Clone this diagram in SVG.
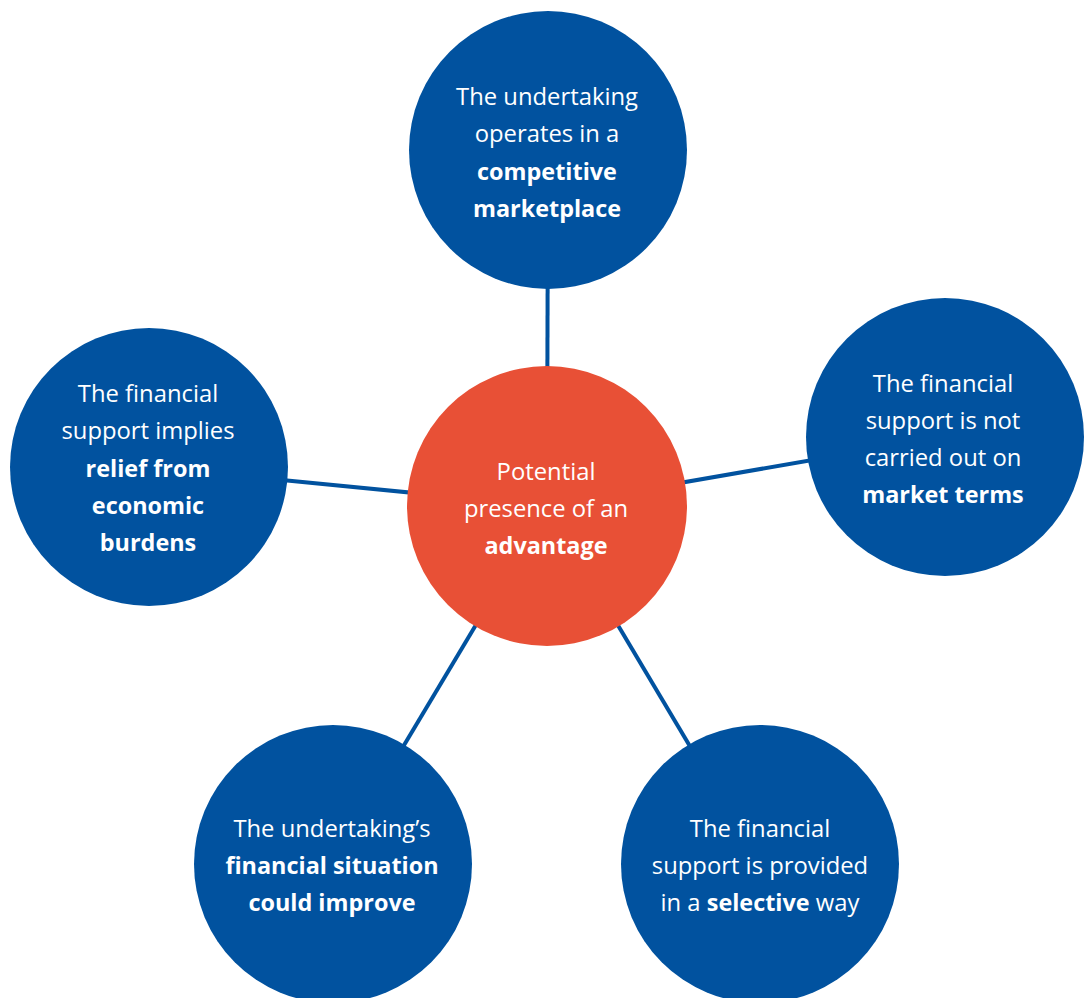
<svg xmlns="http://www.w3.org/2000/svg" width="1084" height="998" viewBox="0 0 1084 998">
<style>
.blue{fill:#01529F}
.orange{fill:#E85036}
.conn line{stroke:#01529F;stroke-width:4;stroke-linecap:butt}
text{font-family:"Open Sans","Noto Sans","Liberation Sans",sans-serif;font-size:23.8px;fill:#ffffff;text-anchor:middle;font-weight:normal}
.b{font-weight:bold;font-size:23.4px}
</style>
<rect width="1084" height="998" fill="#ffffff"/>
<g id="connectors" class="conn">
<line x1="547" y1="506" x2="548" y2="150"/>
<line x1="547" y1="506" x2="945" y2="437"/>
<line x1="547" y1="506" x2="149" y2="467"/>
<line x1="547" y1="506" x2="333" y2="864"/>
<line x1="547" y1="506" x2="760" y2="864"/>
</g>
<g id="node-top">
<circle class="blue" cx="548" cy="150" r="139"/>
<text x="547" y="105">The undertaking</text>
<text x="547" y="142">operates in a</text>
<text x="547" y="180" class="b">competitive</text>
<text x="547" y="217" class="b">marketplace</text>
</g>
<g id="node-center">
<circle class="orange" cx="547" cy="506" r="140"/>
<text x="546" y="480">Potential</text>
<text x="546" y="517">presence of an</text>
<text x="546" y="554" class="b">advantage</text>
</g>
<g id="node-left">
<circle class="blue" cx="149" cy="467" r="139"/>
<text x="148" y="402">The financial</text>
<text x="148" y="439">support implies</text>
<text x="148" y="477" class="b">relief from</text>
<text x="148" y="514" class="b">economic</text>
<text x="148" y="551" class="b">burdens</text>
</g>
<g id="node-right">
<circle class="blue" cx="945" cy="437" r="139"/>
<text x="943" y="392">The financial</text>
<text x="943" y="429">support is not</text>
<text x="943" y="466">carried out on</text>
<text x="943" y="503" class="b">market terms</text>
</g>
<g id="node-bottom-left">
<circle class="blue" cx="333" cy="864" r="139"/>
<text x="332" y="837">The undertaking’s</text>
<text x="332" y="874" class="b">financial situation</text>
<text x="332" y="911" class="b">could improve</text>
</g>
<g id="node-bottom-right">
<circle class="blue" cx="760" cy="864" r="139"/>
<text x="760" y="837">The financial</text>
<text x="760" y="874">support is provided</text>
<text x="760" y="911">in a <tspan class="b">selective</tspan> way</text>
</g>
</svg>
